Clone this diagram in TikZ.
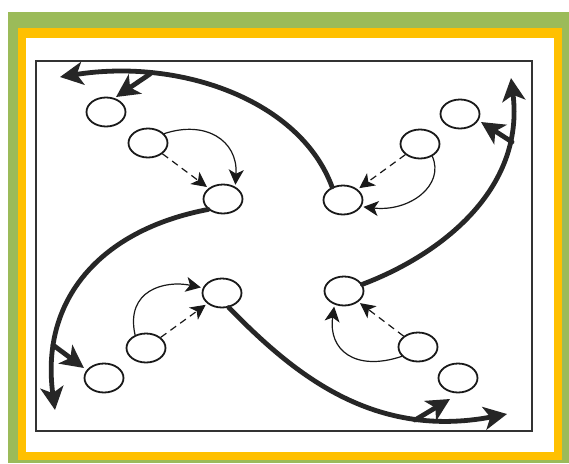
\documentclass[tikz,border=0pt]{standalone}
\usetikzlibrary{shapes.geometric,arrows.meta}
\definecolor{framegreen}{HTML}{9BBB59}
\definecolor{frameyellow}{HTML}{FFC000}
\begin{document}
\begin{tikzpicture}[x=1pt,y=-1pt,
  player/.style={ellipse,draw=black!90,line width=1.8pt,minimum width=39pt,minimum height=29pt,inner sep=0pt,fill=white},
  run/.style={line width=4.8pt,draw=black!85,line cap=round,-{Stealth[length=23pt,width=23pt,inset=6pt]}},
  pass/.style={line width=1.2pt,draw=black!90,shorten >=2pt,-{Stealth[length=15pt,width=15pt,inset=4pt]}},
  dpass/.style={pass,dash pattern=on 7pt off 5pt}]
\useasboundingbox (0,0) rectangle (569,463);
\fill[framegreen] (8,12) rectangle (569,463);
\fill[frameyellow] (18,28) rectangle (562,460);
\fill[white] (26,38) rectangle (554,452);
\draw[line width=1.4pt,black!80] (36,61) rectangle (532,431);

\node[player] (C1) at (106,112) {};
\node[player] (C2) at (148,143) {};
\node[player] (C3) at (223,199) {};
\node[player] (C4) at (343,200) {};
\node[player] (C5) at (420,144) {};
\node[player] (C6) at (460,114) {};
\node[player] (C7) at (222,293) {};
\node[player] (C8) at (146,348) {};
\node[player] (C9) at (104,378) {};
\node[player] (C10) at (344,291) {};
\node[player] (C11) at (418,347) {};
\node[player] (C12) at (458,378) {};

\coordinate (tTL) at (60,77);
\coordinate (tTR) at (511,78);
\coordinate (tBL) at (55,410);
\coordinate (tBR) at (507,414);
\coordinate (bTL) at (150,74);
\coordinate (bTR) at (512,142);
\coordinate (bBL) at (53,345);
\coordinate (bBR) at (415,420);
\coordinate (eTL) at (116,97);
\coordinate (eTR) at (481,122);
\coordinate (eBL) at (84,368);
\coordinate (eBR) at (450,399);

\draw[run] (C4.130) .. controls (300,100) and (180,58) .. (tTL);
\draw[run] (C10.20) .. controls (440,255) and (525,190) .. (tTR);
\draw[run] (C3.215) .. controls (100,230) and (40,300) .. (tBL);
\draw[run] (C7.-65) .. controls (290,370) and (370,440) .. (tBR);
\draw[run] (bTL) -- (eTL);
\draw[run] (bTR) -- (eTR);
\draw[run] (bBL) -- (eBL);
\draw[run] (bBR) -- (eBR);

\draw[dpass] (C2) -- (C3);
\draw[pass] (C2.30) .. controls (205,120) and (238,140) .. (C3.45);
\draw[dpass] (C5) -- (C4);
\draw[pass] (C5.-45) .. controls (445,185) and (410,212) .. (C4.-20);
\draw[dpass] (C8) -- (C7);
\draw[pass] (C8.130) .. controls (125,290) and (165,280) .. (C7.165);
\draw[dpass] (C11) -- (C10);
\draw[pass] (C11.210) .. controls (355,372) and (328,350) .. (C10.-125);
\end{tikzpicture}
\end{document}
